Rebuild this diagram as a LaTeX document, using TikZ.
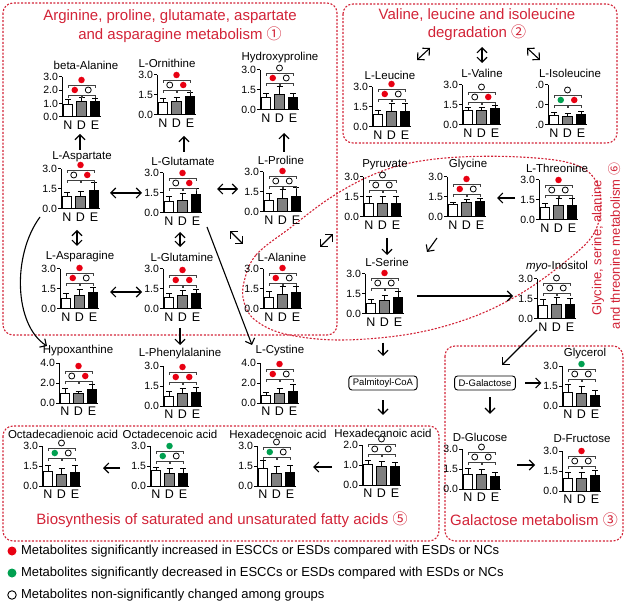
\documentclass[tikz,border=0pt]{standalone}
\usepackage{fontspec}
\setmainfont{Liberation Sans}
\newfontfamily\cjkf{Noto Sans CJK SC}
\usetikzlibrary{arrows.meta}
\definecolor{tred}{RGB}{210,35,55}
\definecolor{dred}{RGB}{232,0,18}
\definecolor{dgreen}{RGB}{0,160,80}
\definecolor{barg}{RGB}{128,128,128}
\tikzset{
  every node/.style={inner sep=0pt, outer sep=0pt},
  ctitle/.style={font=\fontsize{11.5}{13}\selectfont},
  ticklab/.style={font=\fontsize{10.5}{12}\selectfont, anchor=east},
  ndelab/.style={font=\fontsize{12.5}{14}\selectfont, anchor=base},
  axisline/.style={line width=1pt},
  barbox/.style={draw=black, line width=1pt},
  errline/.style={line width=1pt},
  brk/.style={line width=0.6pt, draw=black!75},
  mkr/.style={circle, fill=dred, minimum size=6.5pt},
  mkg/.style={circle, fill=dgreen, minimum size=6.5pt},
  mko/.style={circle, draw=black, fill=white, line width=0.8pt, minimum size=6pt},
  arr/.style={-{Straight Barb[length=5pt,width=10pt]}, line width=1.1pt},
  darr/.style={{Straight Barb[length=5pt,width=10pt]}-{Straight Barb[length=5pt,width=10pt]}, line width=1.1pt},
  grp/.style={draw=tred, line width=1.1pt, dash pattern=on 2pt off 1.6pt, rounded corners=10pt},
  grptitle/.style={text=tred, font=\fontsize{15}{17}\selectfont},
  flowbox/.style={draw=black, line width=0.9pt, rounded corners=3pt, font=\fontsize{9.5}{11}\selectfont, minimum height=14pt, inner xsep=4pt},
  legtext/.style={font=\fontsize{13}{15}\selectfont, anchor=west},
}
\def\chartmarks#1#2/#3/#4\relax{%
  \node[mk#2] (#1-m1) at (19.5,-\brklev-15) {};
  \node[mk#3] (#1-m2) at (12.75,-\brklev-5) {};
  \node[mk#4] (#1-m3) at (26.25,-\brklev-5) {};}
% #1 name, #2 origin, #3 title, #4 ticks, #5 bars h/e, #6 bracket level, #7 marks, #8 title dx
\newcommand\chart[8]{%
 \begin{scope}[shift={(#2)}]
  \def\brklev{#6}%
  \node[ctitle] (#1-t) at (#8,-52) {#3};
  \draw[axisline] (0,-40) -- (0,0) -- (38.5,0);
  \foreach \tp/\ylab [count=\tk] in {#4} {
    \draw[axisline] (0,-\tp) -- (-3,-\tp);
    \node[ticklab] (#1-y\tk) at (-4,-\tp) {\ylab};
  }
  \foreach \bh/\be [count=\bi] in {#5} {
    \pgfmathsetmacro\cx{6+13.5*(\bi-1)}
    \ifcase\bi\or\def\fc{white}\or\def\fc{barg}\or\def\fc{black}\fi
    \draw[errline] (\cx,-\bh) -- (\cx,-\be) (\cx-3,-\be) -- (\cx+3,-\be);
    \draw[barbox, fill=\fc] (\cx-4.75,0) rectangle (\cx+4.75,-\bh);
  }
  \node[ndelab] (#1-n) at (6,12.5) {N};
  \node[ndelab] (#1-d) at (19.5,12.5) {D};
  \node[ndelab] (#1-e) at (33,12.5) {E};
  \draw[brk] (6,-\brklev+3) -- (6,-\brklev) -- (19,-\brklev) -- (19,-\brklev+3);
  \draw[brk] (20,-\brklev+3) -- (20,-\brklev) -- (33,-\brklev) -- (33,-\brklev+3);
  \draw[brk] (6,-\brklev-7) -- (6,-\brklev-10) -- (33,-\brklev-10) -- (33,-\brklev-7);
  \chartmarks{#1}#7\relax
 \end{scope}}
\begin{document}
\begin{tikzpicture}[x=1pt,y=-1pt]
\useasboundingbox (0,0) rectangle (627,604);
% group frames
\draw[grp] (3,3) rectangle (337,335);
\draw[grp] (343,4) rectangle (617,143);
\draw[grp] (3,426) rectangle (439,541);
\draw[grp] (445,346) rectangle (623,541);
\draw[draw=tred, line width=1.1pt, dash pattern=on 2pt off 1.6pt]
  plot[smooth cycle, tension=0.6] coordinates {(244,282) (256,255) (290,228) (330,198) (370,176) (410,163) (460,157) (520,157) (570,163) (594,178) (601,205) (593,235) (565,262) (520,294) (470,318) (410,334) (340,340) (285,334) (255,320) (244,302)};
% group titles
\node[grptitle] (g1a) at (170,17) {Arginine, proline, glutamate, aspartate};
\node[grptitle] (g1b) at (180,35) {and asparagine metabolism {\cjkf ①}};
\node[grptitle] (g2a) at (477,15) {Valine, leucine and isoleucine};
\node[grptitle] (g2b) at (477,33) {degradation {\cjkf ②}};
\node[grptitle] (g5) at (222,520) {Biosynthesis of saturated and unsaturated fatty acids {\cjkf ⑤}};
\node[grptitle] (g3) at (534,520) {Galactose metabolism {\cjkf ③}};
\node[grptitle, font=\fontsize{13}{15}\selectfont, rotate=90] (g6a) at (598,248) {Glycine, serine, alanine};
\node[grptitle, font=\fontsize{13}{15}\selectfont, rotate=90] (g6b) at (615,246) {and threonine metabolism {\cjkf ⑥}};
% charts
\chart{bala}{62,117}{beta-Alanine}{40/3.0,26.7/2.0,13.3/1.0,0/0.0}{12/17,15/19,15/18}{22}{r/r/o}{24}
\chart{orn}{157,115}{L-Ornithine}{40/3.0,20/1.5,0/0.0}{12/16,13/17,18/22}{25}{r/o/r}{10}
\chart{hyp}{260,110}{Hydroxyproline}{40/3.0,20/1.5,0/0.0}{12/16,15/23,12/16}{27}{o/r/o}{20}
\chart{asp}{61,209}{L-Aspartate}{40/3.0,20/1.5,0/0.0}{12/16,12/17,18/26}{29}{r/o/r}{21}
\chart{glu}{163,213}{L-Glutamate}{40/3.0,20/1.5,0/0.0}{11/16,12/19,18/24}{25}{r/o/r}{20}
\chart{pro}{263,212}{L-Proline}{40/3.0,20/1.5,0/0.0}{11/18,13/22,15/24}{26}{r/o/o}{18}
\chart{asn}{60,309}{L-Asparagine}{40/3.0,20/1.5,0/0.0}{10/15,13/19,16/21}{26}{r/r/o}{20}
\chart{gln}{163,309}{L-Glutamine}{40/3.0,20/1.5,0/0.0}{11/15,13/18,15/19}{24}{r/r/r}{19}
\chart{ala}{263,309}{L-Alanine}{40/3.0,20/1.5,0/0.0}{11/17,14/22,16/22}{26}{r/r/o}{19}
\chart{leu}{372,127}{L-Leucine}{40/3.0,20/1.5,0/0.0}{12/16,15/23,15/23}{28}{r/r/o}{18}
\chart{val}{462,125}{L-Valine}{40/3.0,20/1.5,0/0.0}{14/17,14/17,16/19}{23}{o/o/r}{20}
\chart{ile}{548,125}{L-Isoleucine}{40/.0,20/.0,0/.0}{9/12,8/11,10/13}{20}{o/g/r}{22}
\chart{pyr}{363,217}{Pyruvate}{40/3.0,20/1.5,0/0.0}{13/20,13/20,13/20}{27}{o/o/o}{22}
\chart{gly}{447,217}{Glycine}{40/3.0,20/1.5,0/0.0}{12/14,14/17,15/18}{23}{r/r/o}{21}
\chart{thr}{539,220}{L-Threonine}{40/3.0,20/1.5,0/0.0}{12/16,14/21,14/21}{25}{r/o/o}{18}
\chart{ser}{365,314}{L-Serine}{40/3.0,20/1.5,0/0.0}{10/14,13/18,16/22}{26}{r/o/o}{22}
\chart{myo}{537,319}{\textit{myo}-Inositol}{40/3.0,20/1.5,0/0.0}{13/19,14/21,14/20}{26}{o/o/o}{20}
\chart{hypx}{59,403}{Hypoxanthine}{40/4.0,20/2.0,0/0.0}{10/15,10/12,14/19}{22}{r/o/r}{19}
\chart{phe}{163,406}{L-Phenylalanine}{40/3.0,20/1.5,0/0.0}{10/15,13/18,14/19}{24}{r/r/r}{17}
\chart{cys}{260,403}{L-Cystine}{40/4.0,20/2.0,0/0.0}{8/11,10/15,12/19}{24}{r/r/o}{20}
\chart{odd}{42,486}{Octadecadienoic acid}{40/3.0,20/1.5,0/0.0}{15/21,12/18,14/21}{28}{o/g/o}{21}
\chart{ode}{150,486}{Octadecenoic acid}{40/3.0,20/1.5,0/0.0}{16/19,13/18,13/18}{25}{g/g/o}{20}
\chart{hde}{257,486}{Hexadecenoic acid}{40/3.0,20/1.5,0/0.0}{18/26,13/20,14/21}{29}{o/g/o}{21}
\chart{hda}{362,485}{Hexadecanoic acid}{40/2.0,20/1.0,0/0.0}{21/25,19/24,19/23}{31}{o/o/o}{21}
\chart{glc}{462,489}{D-Glucose}{40/3.0,20/1.5,0/0.0}{15/21,15/20,13/17}{27}{o/o/o}{18}
\chart{fru}{562,491}{D-Fructose}{40/3.0,20/1.5,0/0.0}{13/19,13/19,16/21}{25}{r/o/o}{20}
\chart{glyc}{562,406}{Glycerol}{40/3.0,20/1.5,0/0.0}{14/22,13/20,11/16}{27}{g/o/o}{23}
% flow boxes
\node[flowbox] (pal) at (383,383) {Palmitoyl-CoA};
\node[flowbox] (gal) at (485,383) {D-Galactose};
% arrow end points
\coordinate (p1a) at (80,150);  \coordinate (p1b) at (80,134);
\coordinate (p2a) at (184,152); \coordinate (p2b) at (184,136);
\coordinate (p3a) at (284,152); \coordinate (p3b) at (284,133);
\coordinate (p4a) at (110,193); \coordinate (p4b) at (142,193);
\coordinate (p5a) at (217,189); \coordinate (p5b) at (238,189);
\coordinate (p6a) at (77,230);  \coordinate (p6b) at (77,246);
\coordinate (p7a) at (180,232); \coordinate (p7b) at (180,247);
\coordinate (p8a) at (230,231); \coordinate (p8b) at (243,244);
\coordinate (p9a) at (320,247); \coordinate (p9b) at (333,234);
\coordinate (p10a) at (110,292); \coordinate (p10b) at (142,292);
\coordinate (p11a) at (180,328); \coordinate (p11b) at (180,345);
\coordinate (p12a) at (40,217);  \coordinate (p12b) at (47,346);
\coordinate (p13a) at (207,227); \coordinate (p13b) at (252,345);
\coordinate (q1a) at (417,60); \coordinate (q1b) at (430,48);
\coordinate (q2a) at (482,47); \coordinate (q2b) at (482,63);
\coordinate (q3a) at (527,48); \coordinate (q3b) at (540,60);
\coordinate (s1a) at (515,198); \coordinate (s1b) at (497,198);
\coordinate (s2a) at (387,238); \coordinate (s2b) at (387,255);
\coordinate (s3a) at (437,238); \coordinate (s3b) at (427,252);
\coordinate (s4a) at (417,296); \coordinate (s4b) at (513,296);
\coordinate (s5a) at (537,330); \coordinate (s5b) at (502,365);
\coordinate (f1a) at (332,467); \coordinate (f1b) at (313,467);
\coordinate (f2a) at (120,468); \coordinate (f2b) at (103,468);
\coordinate (c1a) at (517,465); \coordinate (c1b) at (535,465);
% arrows
\draw[arr] (p1a) -- (p1b);
\draw[arr] (p2a) -- (p2b);
\draw[arr] (p3a) -- (p3b);
\draw[darr] (p4a) -- (p4b);
\draw[darr] (p5a) -- (p5b);
\draw[darr] (p6a) -- (p6b);
\draw[darr] (p7a) -- (p7b);
\draw[darr] (p8a) -- (p8b);
\draw[darr] (p9a) -- (p9b);
\draw[darr] (p10a) -- (p10b);
\draw[arr] (p11a) -- (p11b);
\draw[arr] (p12a) .. controls (12,255) and (14,325) .. (p12b);
\draw[arr] (p13a) -- (p13b);
\draw[darr] (q1a) -- (q1b);
\draw[darr] (q2a) -- (q2b);
\draw[darr] (q3a) -- (q3b);
\draw[arr] (s1a) -- (s1b);
\draw[arr] (s2a) -- (s2b);
\draw[arr] (s3a) -- (s3b);
\draw[arr] (s4a) -- (s4b);
\draw[arr] (s5a) -- (s5b);
\draw[arr, shorten <=16pt, shorten >=20pt] (ser-d.south -| pal.north) -- (pal.north);
\draw[arr, shorten <=10pt, shorten >=14pt] (pal.south) -- (pal.south |- hda-t.north);
\draw[arr] (f1a) -- (f1b);
\draw[arr] (f2a) -- (f2b);
\draw[arr, shorten <=10pt, shorten >=2pt] (gal.east) -- (gal.east -| glyc-y2.west);
\draw[arr, shorten <=7pt, shorten >=19pt] ([xshift=5pt]gal.south) -- ([xshift=5pt]gal.south |- glc-t.north);
\draw[arr] (c1a) -- (c1b);
% legend
\node[circle, fill=dred, minimum size=9pt] (lg1) at (12,551) {};
\node[legtext] (lg1t) at (21,551) {Metabolites significantly increased in ESCCs or ESDs compared with ESDs or NCs};
\node[circle, fill=dgreen, minimum size=9pt] (lg2) at (12,573) {};
\node[legtext] (lg2t) at (21,573) {Metabolites significantly decreased in ESCCs or ESDs compared with ESDs or NCs};
\node[circle, draw=black, line width=0.9pt, minimum size=8.5pt] (lg3) at (12,595) {};
\node[legtext] (lg3t) at (21,595) {Metabolites non-significantly changed among groups};
\end{tikzpicture}
\end{document}
